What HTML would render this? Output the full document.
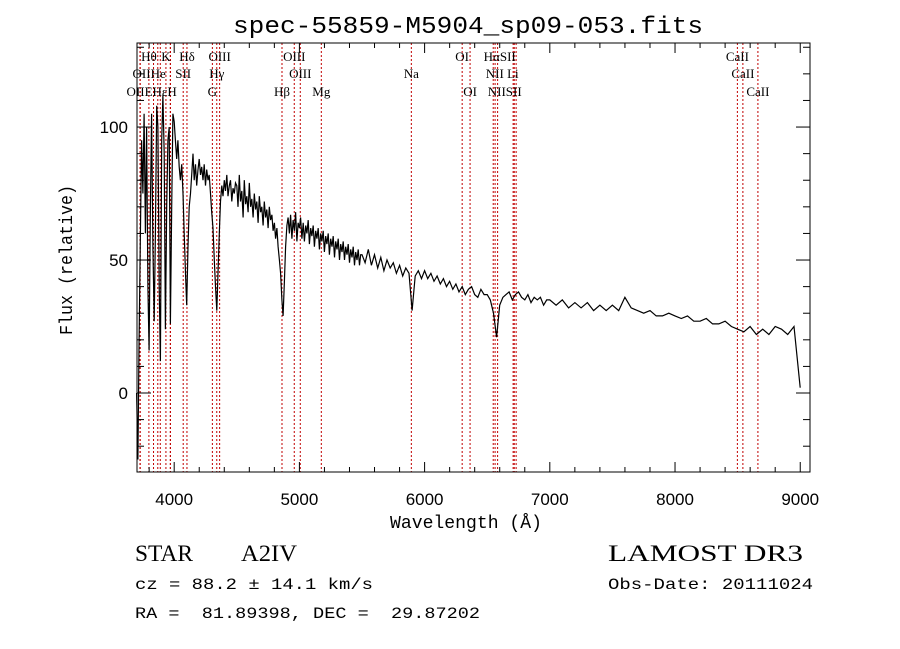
<!DOCTYPE html>
<html><head><meta charset="utf-8"><style>
html,body{margin:0;padding:0;background:#fff;}
svg{display:block;}
.t{font-family:"Liberation Mono",monospace;fill:#000;}
.s{font-family:"Liberation Sans",sans-serif;fill:#000;}
.r{font-family:"Liberation Serif",serif;fill:#000;}
</style></head><body>
<svg id="chart" width="900" height="649" viewBox="0 0 900 649" xmlns="http://www.w3.org/2000/svg">
<rect width="900" height="649" fill="#fff"/>
<text class="t" x="468" y="33" text-anchor="middle" font-size="24" textLength="470" lengthAdjust="spacingAndGlyphs">spec-55859-M5904_sp09-053.fits</text>
<g id="lines"></g>
<g id="labels"></g>
<path id="spec" fill="none" stroke="#000" stroke-width="1.2"/>
<rect x="137" y="43" width="673" height="429" fill="none" stroke="#000" stroke-width="1"/>
<g id="ticks"></g>
<text class="t" x="466" y="528" text-anchor="middle" font-size="18" textLength="152" lengthAdjust="spacingAndGlyphs">Wavelength (Å)</text>
<text class="t" x="0" y="0" text-anchor="middle" font-size="18" transform="translate(72,260) rotate(-90)" textLength="150" lengthAdjust="spacingAndGlyphs">Flux (relative)</text>
<text class="r" x="135" y="561" style="font-size:23px" textLength="58" lengthAdjust="spacingAndGlyphs">STAR</text>
<text class="r" x="241" y="561" style="font-size:23px" textLength="56" lengthAdjust="spacingAndGlyphs">A2IV</text>
<text class="r" x="608" y="561" style="font-size:23px" textLength="195" lengthAdjust="spacingAndGlyphs">LAMOST DR3</text>
<text class="t" x="135" y="589" font-size="16" textLength="238" lengthAdjust="spacingAndGlyphs">cz = 88.2 ± 14.1 km/s</text>
<text class="t" x="608" y="589" font-size="16" textLength="205" lengthAdjust="spacingAndGlyphs">Obs-Date: 20111024</text>
<text class="t" x="135" y="618" font-size="16" textLength="345" lengthAdjust="spacingAndGlyphs" xml:space="preserve">RA =  81.89398, DEC =  29.87202</text>
</svg>
<script>
const fluxBlue = [0,-25,20,60,95,75,105,60,100,40,
16,70,105,55,27,60,108,100,40,12,
95,112,90,24,70,95,100,26,70,105,
102,95,88,95,85,80,86,75,60,45,
33,55,70,75,82,90,80,86,78,84,
88,82,85,80,86,78,84,80,82,75,
68,62,50,40,31,45,60,72,78,74,
80,76,82,74,78,80,72,77,75,79];
const fluxGreen = [78,70,82,72,76,66,80,71,74,68,79,70,73,66,75,69,72,64,74,68,70,63,72,66,69,62,70,65,67,61];
const fluxHbeta = [64,58,62,55,50,45,35,29,42,55,63,66,60,67,58,65,61,68,57,64];
const fluxMid = [62,66,58,64,57,63,60,65,56,62,59,63,55,61,58,62,54,60,57,61,53,59,56,60,52,58,55,59,51,57,54,58,50,56,53,57,50,55,52,56,49,54,51,55,48,53,50,54,48,52];
const fluxNa = [52,49,54,48,52,47,51,46,50,47,49,45,48,44,47,45,31,44,46,43];
const fluxRed = [46,43,45,42,44,41,43,40,42,39,41,38,40,37,39,40,37,36,39,37,
37,35,30,21,33,36,37,38,35,37,38,36,35,37,34,36,35,36,33,35];
const fluxIR = [35,33,35,32,34,32,34,31,33,31,33,31,36,32,31,30,31,29,29,30,
29,28,29,27,27,28,26,26,27,25,24,23,25,22,24,22,25,24,22,25,2];
const segStarts = [3700,4500,4800,5000,5500,6000,7000];
const segSteps = [10,10,10,10,25,25,50];
const lineWaves = [3727,3729,3798,3835,3869,3889,3934,3969,3970,4072,4102,4305,4340,4363,4861,4959,5007,5175,5894,6300,6363,6548,6563,6583,6707,6716,6731,8498,8542,8662];
const labelText = ["Hθ","K","Hδ","OIII","OIII","OI","HαSII","CaII",
"OIIHe","SII","Hγ","OIII","Na","NII Li","CaII",
"OIIEHεH","G","Hβ","Mg","OI","NIISII","CaII"];
const labelWave = [3798,3934,4102,4363,4959,6300,6600,8498,
3800,4072,4340,5007,5894,6620,8542,
3820,4305,4861,5175,6363,6640,8662];
const labelRow = [0,0,0,0,0,0,0,0, 1,1,1,1,1,1,1, 2,2,2,2,2,2,2];
const xTicks = [4000,5000,6000,7000,8000,9000];
const yTicks = [0,50,100];

const X0=137,X1=810,Y0=43,Y1=472, WMIN=3703, WMAX=9078, FMIN=-29.7, FMAX=131.6;
const xs = w => X0 + (w-WMIN)/(WMAX-WMIN)*(X1-X0);
const ys = f => Y1 - (f-FMIN)/(FMAX-FMIN)*(Y1-Y0);
const NS="http://www.w3.org/2000/svg";
const segs=[fluxBlue,fluxGreen,fluxHbeta,fluxMid,fluxNa,fluxRed,fluxIR];
let d="";
segs.forEach((arr,i)=>{arr.forEach((f,j)=>{const w=segStarts[i]+j*segSteps[i];d+=(d?"L":"M")+xs(w).toFixed(1)+" "+ys(f).toFixed(1);});});
document.getElementById('spec').setAttribute('d',d);

const gl=document.getElementById('lines');
lineWaves.forEach(w=>{
  const l=document.createElementNS(NS,'line');
  
  
  l.setAttribute('x1',xs(w));l.setAttribute('x2',xs(w));l.setAttribute('y1',Y0);l.setAttribute('y2',Y1);
  l.setAttribute('stroke','#c00000');l.setAttribute('stroke-width','1');l.setAttribute('stroke-dasharray','2,2');
  gl.appendChild(l);
});
const glab=document.getElementById('labels');
const rowY=[61,78,96];
labelText.forEach((t,i)=>{
  const e=document.createElementNS(NS,'text');
  
  
  e.setAttribute('class','r');e.setAttribute('style','font-size:13px');
  e.setAttribute('x',xs(labelWave[i]));e.setAttribute('y',rowY[labelRow[i]]);
  e.setAttribute('text-anchor','middle');e.textContent=t;glab.appendChild(e);
});
const gt=document.getElementById('ticks');
function ln(x1,y1,x2,y2){const l=document.createElementNS(NS,'line');
  
  
  l.setAttribute('x1',x1);l.setAttribute('y1',y1);l.setAttribute('x2',x2);l.setAttribute('y2',y2);l.setAttribute('stroke','#000');gt.appendChild(l);}
function tx(x,y,s,a){const e=document.createElementNS(NS,'text');
  
  
  e.setAttribute('class','s');e.setAttribute('x',x);e.setAttribute('y',y);e.setAttribute('font-size','17');e.setAttribute('text-anchor',a);e.textContent=s;gt.appendChild(e);}
for(let w=3800;w<=9000;w+=200){const maj=w%1000===0;const L=maj?10:5;ln(xs(w),Y1,xs(w),Y1-L);ln(xs(w),Y0,xs(w),Y0+L);}
xTicks.forEach(w=>tx(xs(w),505,String(w),'middle'));
for(let f=-20;f<=130;f+=10){const maj=f%50===0;const L=maj?14:7;ln(X0,ys(f),X0+L,ys(f));ln(X1,ys(f),X1-L,ys(f));}
yTicks.forEach(f=>tx(128,ys(f)+6,String(f),'end'));
</script>
</body></html>
